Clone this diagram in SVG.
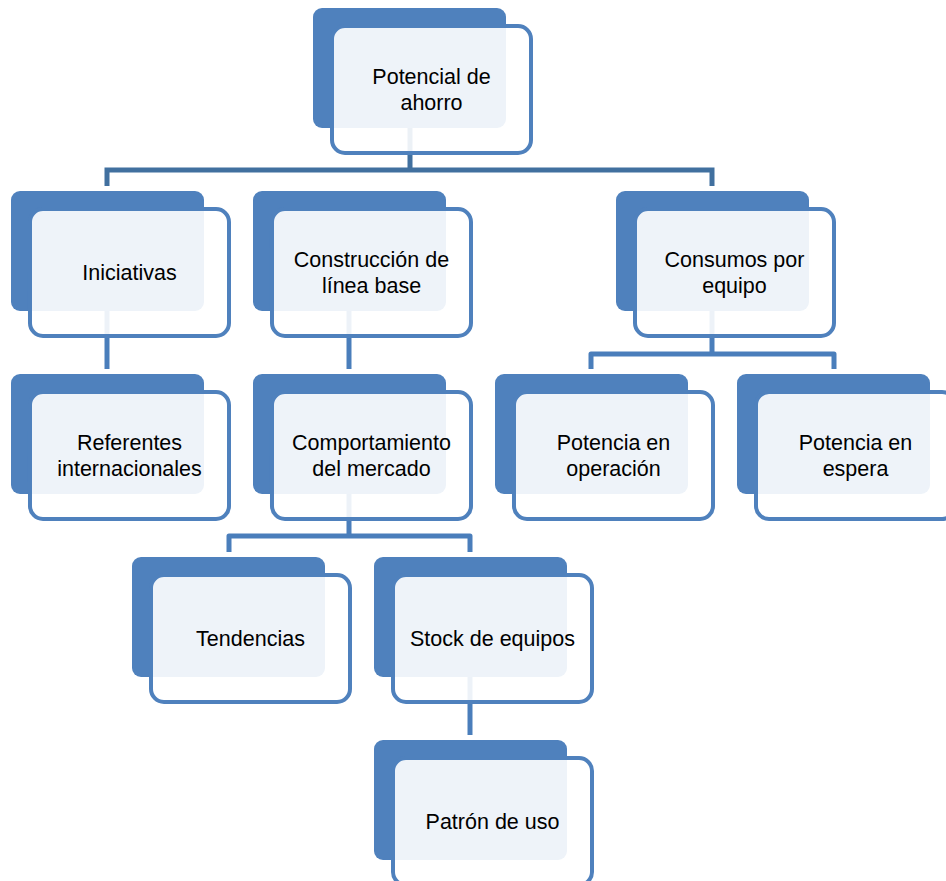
<svg xmlns="http://www.w3.org/2000/svg" width="946" height="881" viewBox="0 0 946 881">
<style>
.back{fill:#4F81BD}
.front{fill:#ffffff;fill-opacity:0.9;stroke:#4F81BD;stroke-width:4}
.lbl{font-family:"Liberation Sans",Arial,sans-serif;font-size:21.5px;fill:#000;text-anchor:middle;dominant-baseline:central}
.c1{fill:none;stroke:#41709F;stroke-width:5}
.c2{fill:none;stroke:#4A7EBB;stroke-width:5;stroke-linejoin:round}
</style>
<rect width="946" height="881" fill="#ffffff"/>
<g id="connectors">
<path class="c1" d="M410,128 V170 M107,186 V170 H712 V186"/>
<path class="c2" d="M107,311 V369"/>
<path class="c2" d="M349,311 V369"/>
<path class="c2" d="M712,311 V354 M591,369 V354 H834 V369"/>
<path class="c2" d="M349,494 V536 M229,552 V536 H470 V552"/>
<path class="c2" d="M470,677 V735"/>
</g>
<g id="n-potencial" transform="translate(313,8)">
<rect class="back" width="193" height="120" rx="9"/>
<rect class="front" x="19" y="18" width="199" height="127" rx="13"/>
<text class="lbl" x="118.5" y="68.5">Potencial de</text>
<text class="lbl" x="118.5" y="94.5">ahorro</text>
</g>
<g id="n-iniciativas" transform="translate(11,191)">
<rect class="back" width="193" height="120" rx="9"/>
<rect class="front" x="19" y="18" width="199" height="127" rx="13"/>
<text class="lbl" x="118.5" y="81.5">Iniciativas</text>
</g>
<g id="n-construccion" transform="translate(253,191)">
<rect class="back" width="193" height="120" rx="9"/>
<rect class="front" x="19" y="18" width="199" height="127" rx="13"/>
<text class="lbl" x="118.5" y="68.5">Construcción de</text>
<text class="lbl" x="118.5" y="94.5">línea base</text>
</g>
<g id="n-consumos" transform="translate(616,191)">
<rect class="back" width="193" height="120" rx="9"/>
<rect class="front" x="19" y="18" width="199" height="127" rx="13"/>
<text class="lbl" x="118.5" y="68.5">Consumos por</text>
<text class="lbl" x="118.5" y="94.5">equipo</text>
</g>
<g id="n-referentes" transform="translate(11,374)">
<rect class="back" width="193" height="120" rx="9"/>
<rect class="front" x="19" y="18" width="199" height="127" rx="13"/>
<text class="lbl" x="118.5" y="68.5">Referentes</text>
<text class="lbl" x="118.5" y="94.5">internacionales</text>
</g>
<g id="n-comportamiento" transform="translate(253,374)">
<rect class="back" width="193" height="120" rx="9"/>
<rect class="front" x="19" y="18" width="199" height="127" rx="13"/>
<text class="lbl" x="118.5" y="68.5">Comportamiento</text>
<text class="lbl" x="118.5" y="94.5">del mercado</text>
</g>
<g id="n-operacion" transform="translate(495,374)">
<rect class="back" width="193" height="120" rx="9"/>
<rect class="front" x="19" y="18" width="199" height="127" rx="13"/>
<text class="lbl" x="118.5" y="68.5">Potencia en</text>
<text class="lbl" x="118.5" y="94.5">operación</text>
</g>
<g id="n-espera" transform="translate(737,374)">
<rect class="back" width="193" height="120" rx="9"/>
<rect class="front" x="19" y="18" width="199" height="127" rx="13"/>
<text class="lbl" x="118.5" y="68.5">Potencia en</text>
<text class="lbl" x="118.5" y="94.5">espera</text>
</g>
<g id="n-tendencias" transform="translate(132,557)">
<rect class="back" width="193" height="120" rx="9"/>
<rect class="front" x="19" y="18" width="199" height="127" rx="13"/>
<text class="lbl" x="118.5" y="81.5">Tendencias</text>
</g>
<g id="n-stock" transform="translate(374,557)">
<rect class="back" width="193" height="120" rx="9"/>
<rect class="front" x="19" y="18" width="199" height="127" rx="13"/>
<text class="lbl" x="118.5" y="81.5">Stock de equipos</text>
</g>
<g id="n-patron" transform="translate(374,740)">
<rect class="back" width="193" height="120" rx="9"/>
<rect class="front" x="19" y="18" width="199" height="127" rx="13"/>
<text class="lbl" x="118.5" y="81.5">Patrón de uso</text>
</g>
</svg>
